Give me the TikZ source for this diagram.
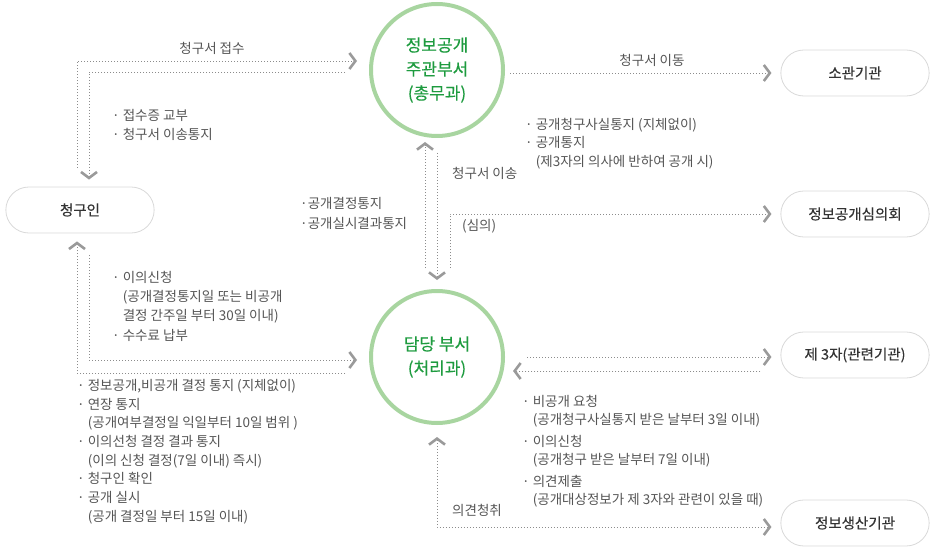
\documentclass[tikz,border=0pt]{standalone}
\usepackage{fontspec}
\setmainfont{Noto Sans CJK KR}
\newfontfamily\krmid[FakeBold=0.3]{Noto Sans CJK KR}
\usepackage{xcolor}
\usetikzlibrary{arrows.meta, positioning, shapes.misc}

\definecolor{ringgreen}{HTML}{A8D5A0}
\definecolor{deptgreen}{HTML}{1E9B3F}
\definecolor{chevgray}{HTML}{9A9A9A}
\definecolor{dotgray}{HTML}{8C8C8C}
\definecolor{pillline}{HTML}{D9D9D9}
\definecolor{notegray}{HTML}{555555}
\definecolor{boxtext}{HTML}{333333}
\newcommand{\noteindent}{\hphantom{·\ }}

\begin{document}
\begin{tikzpicture}[
        x=1pt, y=-1pt,
        dept/.style={circle, draw=ringgreen, line width=4pt, minimum size=132pt, inner sep=0pt, align=center, text=deptgreen, font=\krmid\fontsize{17}{24}\selectfont},
        pill/.style={rounded rectangle, draw=pillline, line width=0.8pt, fill=white, minimum width=155pt, minimum height=46pt, text=boxtext, font=\krmid\fontsize{14.5}{16}\selectfont},
        note/.style={anchor=west, inner sep=0pt, align=left, text=notegray, font=\fontsize{13.5}{19}\selectfont},
        chev/.tip={Straight Barb[length=6pt, width=16pt, line width=2.6pt, color=chevgray]},
        flow/.style={draw=dotgray, line width=0.9pt, dash pattern=on 1pt off 2pt, -chev},
        twoway/.style={flow, chev-chev}
    ]
        \useasboundingbox (0,0) rectangle (936,548);

        % departments
        \node[dept] (top) at (437,70) {정보공개\\주관부서\\(총무과)};
        \node[dept] (bot) at (437,357) {담당 부서\\(처리과)};

        % outside parties
        \node[pill] (req) at (80,210) {청구인};
        \node[pill] (soan) at (855,73) {소관기관};
        \node[pill] (board) at (855,214) {정보공개심의회};
        \node[pill] (third) at (855,355) {제 3자(관련기관)};
        \node[pill] (maker) at (855,523) {정보생산기관};

        % connectors
        \draw[flow, shorten <=19pt, shorten >=12pt] ([xshift=-3pt]req.north) |- ([yshift=9pt]top.west);
        \draw[flow, shorten <=24pt, shorten >=7pt] ([yshift=-2pt]top.west) -| ([xshift=9pt]req.north);
        \draw[flow, shorten <=22pt, shorten >=12pt] ([xshift=9pt]req.south) |- ([yshift=-3pt]bot.west);
        \draw[flow, shorten <=24pt, shorten >=8pt] ([yshift=-16pt]bot.west) -| ([xshift=-3pt]req.south);
        \draw[flow, shorten <=15pt, shorten >=9pt] (top.south) -- (bot.north);
        \draw[flow, shorten <=21pt, shorten >=4pt] ([xshift=-12pt]bot.north) -- ([xshift=-12pt]top.south);
        \draw[flow, shorten <=21pt, shorten >=9pt] ([xshift=13pt]bot.north) |- (board.west);
        \draw[flow, shorten <=5pt, shorten >=9pt] (top.east |- soan.west) -- (soan.west);
        \draw[flow, shorten <=22pt, shorten >=9pt] (bot.east) -- (bot.east -| third.west);
        \coordinate (back3) at ([yshift=-14pt]bot.east);
        \draw[flow, shorten <=20pt, shorten >=8pt] (third.west |- back3) -- (back3);
        \draw[twoway, shorten <=12pt, shorten >=9pt] (bot.south) |- ([yshift=-4pt]maker.west);

        % labels
        \node[note, anchor=center] (lbrecv) at (212,48) {청구서 접수};
        \node[note] (lbrcpt) at (112,125) {· 접수증 교부\\· 청구서 이송통지};
        \node[note, anchor=center] (lbmove) at (652,60) {청구서 이동};
        \node[note, font=\fontsize{13.5}{18.5}\selectfont] (lbnotice) at (525,143.5) {· 공개청구사실통지 (지체없이)\\· 공개통지\\\noteindent{}(제3자의 의사에 반하여 공개 시)};
        \node[note] (lbsend) at (452,173) {청구서 이송};
        \node[note, font=\fontsize{13.5}{20}\selectfont] (lbresult) at (300,213) {·공개결정통지\\·공개실시결과통지};
        \node[note] (lbreview) at (462,226) {(심의)};
        \node[note, font=\fontsize{13.5}{19.3}\selectfont] (lbobject) at (112,306) {· 이의신청\\\noteindent{}(공개결정통지일 또는 비공개\\\noteindent{}결정 간주일 부터 30일 이내)\\· 수수료 납부};
        \node[note, font=\fontsize{13.5}{18.7}\selectfont] (lbdecide) at (77,451.5) {· 정보공개,비공개 결정 통지 (지체없이)\\· 연장 통지\\\noteindent{}(공개여부결정일 익일부터 10일 범위 )\\· 이의선청 결정 결과 통지\\\noteindent{}(이의 신청 결정(7일 이내) 즉시)\\· 청구인 확인\\· 공개 실시\\\noteindent{}(공개 결정일 부터 15일 이내)};
        \node[note, font=\fontsize{13.5}{18}\selectfont] (lbthird) at (522,451.5) {· 비공개 요청\\\noteindent{}(공개청구사실통지 받은 날부터 3일 이내)\\[4pt]· 이의신청\\\noteindent{}(공개청구 받은 날부터 7일 이내)\\[4pt]· 의견제출\\\noteindent{}(공개대상정보가 제 3자와 관련이 있을 때)};
        \node[note, anchor=center] (lbhear) at (477,510) {의견청취};
    \end{tikzpicture}
\end{document}
